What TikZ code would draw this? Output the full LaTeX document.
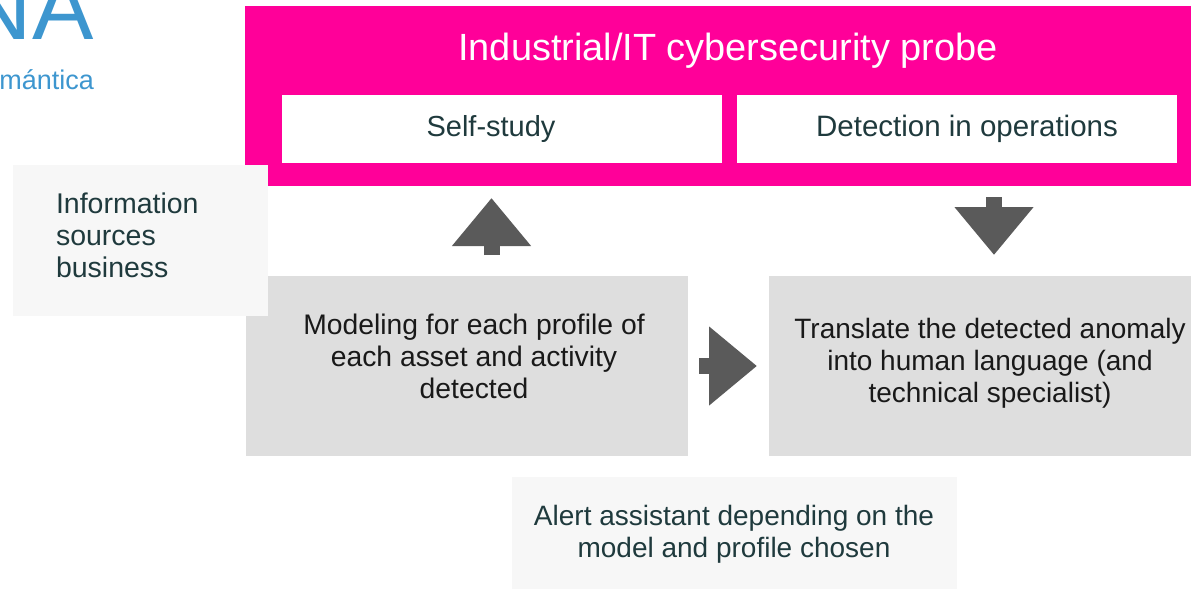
\documentclass[tikz,border=0pt]{standalone}
\usepackage{fontspec}
\setmainfont{Liberation Sans}
\usetikzlibrary{arrows.meta}
\definecolor{probepink}{HTML}{FF0099}
\definecolor{boxgray}{HTML}{DEDEDE}
\definecolor{notegray}{HTML}{F7F7F7}
\definecolor{arrowgray}{HTML}{5A5A5A}
\definecolor{textdark}{HTML}{1F3A3D}
\definecolor{logoblue}{HTML}{3D96CF}
\tikzset{
    whitebox/.style={fill=white,minimum height=68pt,minimum width=440pt},
    boxtext/.style={text=textdark,align=center,inner sep=0pt,font=\fontsize{28}{32}\selectfont},
    graybox/.style={fill=boxgray,minimum height=180pt,inner sep=0pt},
    notebox/.style={fill=notegray,inner sep=0pt},
    blockarrow/.style={draw=arrowgray,line width=16pt,-{Triangle[width=76pt,length=48pt,fill=arrowgray]}}
}
\begin{document}
\begin{tikzpicture}[x=1pt,y=-1pt]
    \useasboundingbox (0,0) rectangle (1191,589);
    \clip (0,0) rectangle (1191,589);

    \node[text=logoblue,anchor=base east,inner sep=0pt,font=\fontsize{92}{92}\selectfont] (logoname) at (94,39) {NA};
    \node[text=logoblue,anchor=base east,inner sep=0pt,font=\fontsize{27}{27}\selectfont] (logotext) at (94,89) {mántica};

    \node[fill=probepink,minimum width=946pt,minimum height=180pt,inner sep=0pt] (probe) at (718,96) {};
    \node[text=white,font=\fontsize{37.9}{40}\selectfont,inner sep=0pt] (title) at (728,51) {Industrial/IT cybersecurity probe};
    \node[whitebox] (study) at (502,129) {};
    \node[boxtext,font=\fontsize{29}{32}\selectfont] (studytext) at (491,129) {Self-study};
    \node[whitebox] (detection) at (957,129) {};
    \node[boxtext,font=\fontsize{29.5}{32}\selectfont] (detectiontext) at (967,129) {Detection in operations};

    \node[graybox,minimum width=442pt] (modeling) at (467,366) {};
    \node[boxtext,text=black!90,font=\fontsize{28.3}{32}\selectfont] (modelingtext) at (474,356) {Modeling for each profile of\\each asset and activity\\detected};
    \node[graybox,minimum width=422pt] (translate) at (980,366) {};
    \node[boxtext,text=black!90] (translatetext) at (990,363) {Translate the detected anomaly\\into human language (and\\technical specialist)};
    \node[notebox,minimum width=255pt,minimum height=151pt] (sources) at (140.5,240.5) {};
    \node[boxtext,align=left,text width=169pt,font=\fontsize{28.5}{32}\selectfont] (sourcestext) at (140.5,235.5) {Information\\sources\\business};
    \node[notebox,minimum width=445pt,minimum height=112pt] (alert) at (734.5,533) {};
    \node[boxtext] (alerttext) at (734,534) {Alert assistant depending on the\\model and profile chosen};

    % free ends of the block arrows
    \coordinate (upstart) at (491.5,255);
    \coordinate (upend) at (491.5,198);
    \coordinate (downstart) at (994,197);
    \coordinate (downend) at (994,255);
    \coordinate (rightstart) at (699,366);
    \coordinate (rightend) at (757,366);
    \draw[blockarrow] (upstart) -- (upend);
    \draw[blockarrow] (downstart) -- (downend);
    \draw[blockarrow] (rightstart) -- (rightend);
\end{tikzpicture}
\end{document}
